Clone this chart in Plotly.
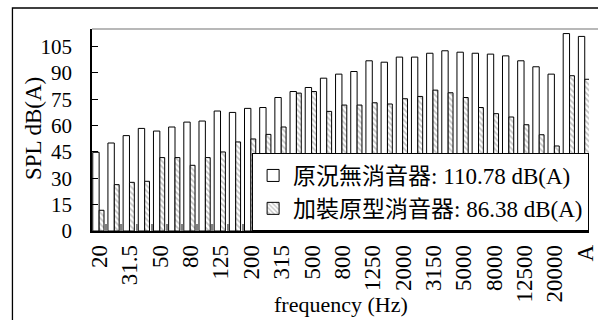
import plotly.graph_objects as go

categories = ["20", "25", "31.5", "40", "50", "63", "80", "100", "125", "160",
              "200", "250", "315", "400", "500", "630", "800", "1000", "1250", "1600",
              "2000", "2500", "3150", "4000", "5000", "6300", "8000", "10000", "12500",
              "16000", "20000", "Z", "A"]

no_muffler = [44.8, 50.1, 54.3, 58.4, 56.9, 59.2, 62.0, 62.6, 68.3, 67.5,
              69.8, 70.3, 76.0, 79.4, 81.7, 87.0, 89.3, 90.8, 96.9, 96.1,
              99.0, 99.0, 101.2, 102.6, 101.8, 101.2, 100.7, 99.7, 96.9,
              93.5, 89.3, 112.4, 110.78]

prototype = [11.8, 26.4, 27.7, 28.3, 41.8, 41.8, 37.4, 41.8, 45.0, 50.7,
             52.4, 55.0, 59.2, 78.5, 79.4, 68.1, 71.7, 71.7, 73.0, 72.3,
             75.3, 76.6, 80.2, 78.7, 76.0, 70.3, 66.8, 64.9, 60.5,
             54.8, 48.4, 88.4, 86.38]

small_series = [4.0] * len(categories)

tick_labels = categories[::2]

name_a = "原況無消音器: 110.78 dB(A)"
name_b = "加裝原型消音器: 86.38 dB(A)"

FONT = "Liberation Serif, 'Times New Roman', 'Noto Sans CJK TC', serif"

fig = go.Figure()
fig.add_trace(go.Bar(
    x=categories, y=no_muffler, name=name_a,
    offset=-0.45, width=0.42,
    marker=dict(color="white", line=dict(color="black", width=1)),
))
fig.add_trace(go.Bar(
    x=categories, y=prototype, name=name_b,
    offset=-0.03, width=0.32,
    marker=dict(color="white", line=dict(color="black", width=1),
                pattern=dict(shape="\\", fgcolor="#8a8a8a", bgcolor="white",
                             size=4, solidity=0.45)),
))
fig.add_trace(go.Bar(
    x=categories, y=small_series, showlegend=False,
    offset=0.40, width=0.11,
    marker=dict(color="#808080", line=dict(width=0)),
))

L, T, B = 92, 29, 231
W = 598 - L
H = B - T

def px_x(p):
    return (p - L) / W

def px_y(p):
    return (B - p) / H

fig.update_layout(
    width=598, height=320,
    margin=dict(l=L, r=0, t=T, b=320 - B, pad=0),
    paper_bgcolor="white", plot_bgcolor="white",
    barmode="overlay",
    font=dict(family=FONT, size=22, color="black"),
    showlegend=True,
    legend=dict(
        x=px_x(255), y=px_y(153), xanchor="left", yanchor="top",
        bgcolor="white", bordercolor="black", borderwidth=1,
        font=dict(family=FONT, size=23, color="black"),
        itemwidth=30, tracegroupgap=0,
    ),
    xaxis=dict(
        type="category", categoryorder="array", categoryarray=categories,
        range=[-0.5, -0.5 + W / 15.45],
        tickmode="array", tickvals=tick_labels, ticktext=tick_labels,
        tickangle=-90, ticks="", showgrid=False, zeroline=False,
        showline=True, linecolor="black", linewidth=1.5,
        tickfont=dict(family=FONT, size=23, color="black"),
        ticklabelstandoff=3,
    ),
    yaxis=dict(
        range=[0, 115], tickmode="array", tickvals=[0, 15, 30, 45, 60, 75, 90, 105],
        ticks="inside", ticklen=6, tickcolor="black", tickwidth=1,
        showgrid=False, zeroline=False,
        showline=True, linecolor="black", linewidth=1.5,
        tickfont=dict(family=FONT, size=21, color="black"),
        ticklabelstandoff=14,
    ),
    annotations=[
        dict(text="frequency (Hz)", xref="paper", yref="paper",
             x=px_x(346), y=px_y(304), xanchor="center", yanchor="middle",
             showarrow=False, font=dict(family=FONT, size=22, color="black")),
        dict(text="SPL dB(A)", xref="paper", yref="paper", textangle=-90,
             x=px_x(32), y=px_y(129), xanchor="center", yanchor="middle",
             showarrow=False, font=dict(family=FONT, size=23, color="black")),
    ],
    shapes=[
        dict(type="line", xref="paper", yref="paper", x0=0, x1=1.05, y0=1, y1=1,
             line=dict(color="#a0a0a0", width=1.5)),
        dict(type="rect", xref="paper", yref="paper",
             x0=px_x(11), x1=1.1, y0=-1.0, y1=px_y(8),
             line=dict(color="black", width=1.3), fillcolor="rgba(0,0,0,0)"),
    ],
)

fig.write_html("out.html")
